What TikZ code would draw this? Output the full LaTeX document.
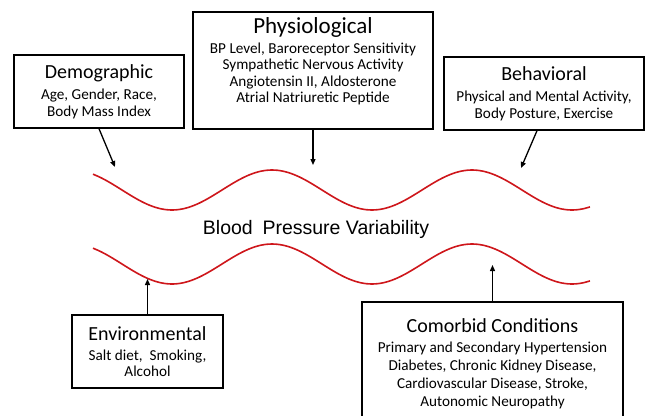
\documentclass[tikz,border=0pt]{standalone}
\usepackage{fontspec}
\setmainfont{Carlito}
\newfontfamily\arialfont{Liberation Sans}
\usetikzlibrary{arrows.meta}
\definecolor{wavered}{RGB}{206,22,27}
\newcommand\boxtitle[2][20]{{\fontsize{#1}{#1}\selectfont #2}}

\begin{document}
\begin{tikzpicture}[x=1pt,y=-1pt,
    factor/.style={draw,line width=1.4pt,inner sep=0pt,align=center,
        font=\fontsize{15.2}{17}\selectfont},
    influence/.style={line width=1.3pt,-{Triangle[length=6pt,width=5pt]}},
    wave/.style={wavered,line width=1.6pt}]

    \useasboundingbox (0,0) rectangle (645,415);

    %factor boxes:
    \node[factor,minimum width=170pt,minimum height=73pt] (demo) at (99,91.5)
        {\boxtitle{Demographic}\\[4pt] Age, Gender, Race,\\ Body Mass Index};
    \node[factor,minimum width=240pt,minimum height=117pt,text depth=21pt,
        font=\fontsize{15.2}{16.5}\selectfont] (phys) at (313,70.5)
        {\boxtitle[23]{Physiological}\\[3.5pt] BP Level, Baroreceptor Sensitivity\\
         Sympathetic Nervous Activity\\ Angiotensin II, Aldosterone\\
         Atrial Natriuretic Peptide};
    \node[factor,minimum width=200pt,minimum height=73pt] (behav) at (544,93.5)
        {\boxtitle{Behavioral}\\[4pt] Physical and Mental Activity,\\ Body Posture, Exercise};
    \node[factor,minimum width=151pt,minimum height=73pt,
        font=\fontsize{15.2}{16}\selectfont] (env) at (147.5,351.5)
        {\boxtitle{Environmental}\\[4pt] Salt diet,~ Smoking,\\ Alcohol};
    \node[factor,minimum width=261pt,minimum height=123pt,
        font=\fontsize{15.2}{18}\selectfont] (com) at (492.5,363.5)
        {\boxtitle{Comorbid Conditions}\\[2pt] Primary and Secondary Hypertension\\
         Diabetes, Chronic Kidney Disease,\\ Cardiovascular Disease, Stroke,\\
         Autonomic Neuropathy};

    %the two waves:
    \draw[wave] plot[domain=93:590,samples=90,smooth] (\x,{190-20*cos(1.8*(\x-272))});
    \draw[wave] plot[domain=93:590,samples=90,smooth] (\x,{264-20*cos(1.8*(\x-272))});
    \node[font=\arialfont\fontsize{19.5}{23}\selectfont,anchor=base] (bpv) at (316,234)
        {Blood\hspace{0.5em}Pressure Variability};

    %arrow tips:
    \coordinate (demoTip) at (115,167);
    \coordinate (physTip) at (313,165);
    \coordinate (behavTip) at (521,168);
    \coordinate (envTip) at (147.5,279);
    \coordinate (comTip) at (492.5,265);

    %draw arrows:
    \draw[influence] (demo.south) -- (demoTip);
    \draw[influence] (phys.south) -- (physTip);
    \draw[influence] ([xshift=-7pt]behav.south) -- (behavTip);
    \draw[influence] (env.north) -- (envTip);
    \draw[influence] (com.north) -- (comTip);

\end{tikzpicture}
\end{document}
